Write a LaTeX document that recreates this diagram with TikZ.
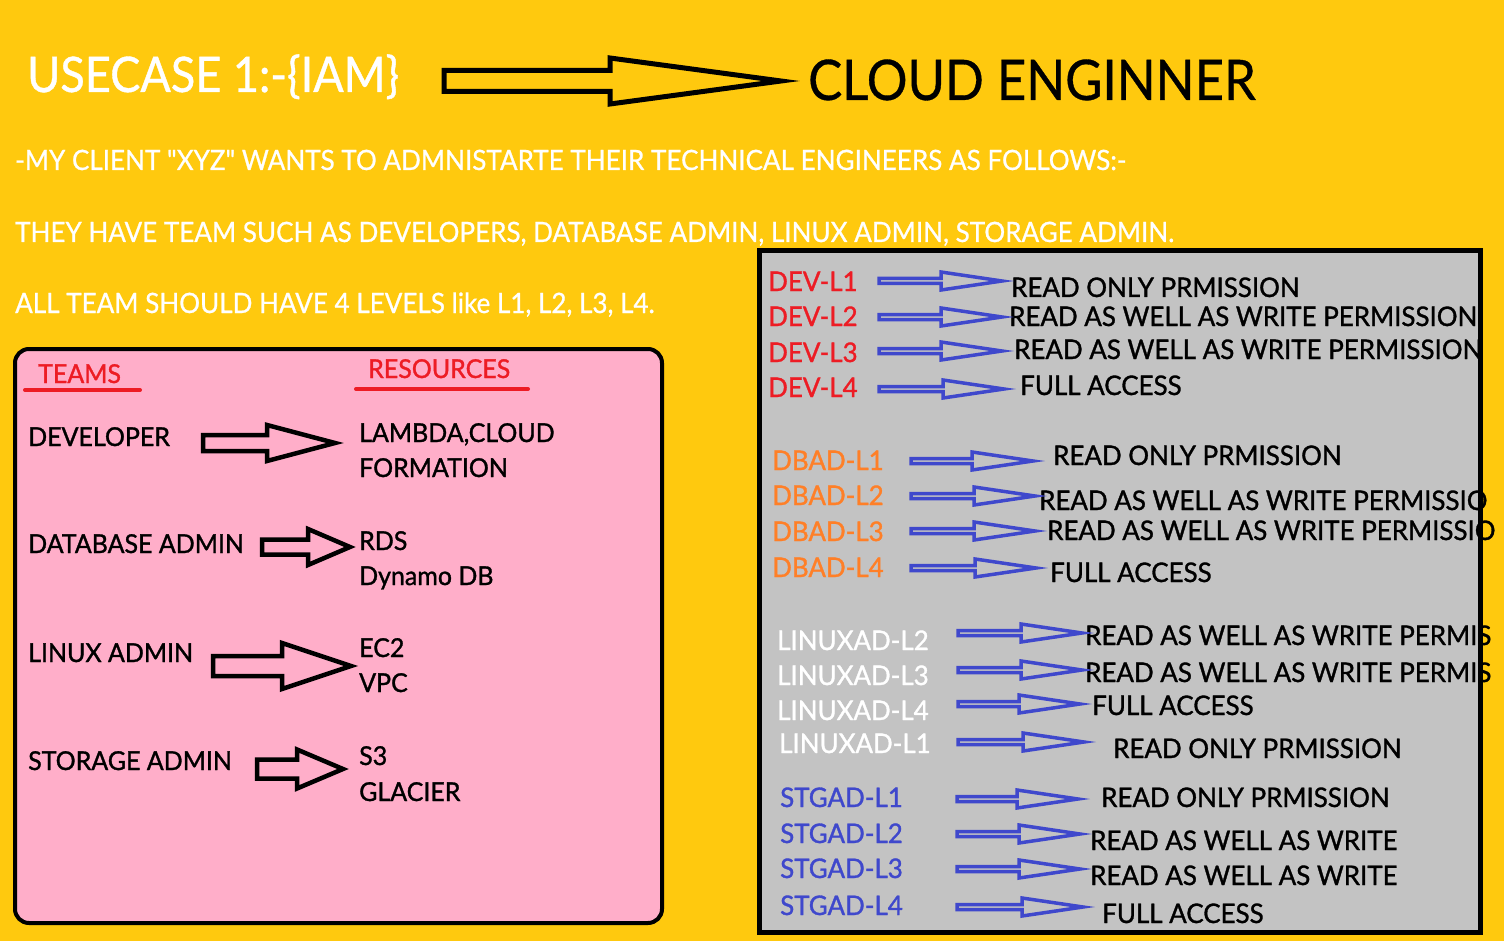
\documentclass[tikz,border=0pt]{standalone}
\usepackage{fontspec}
\setmainfont{Lato}[FakeStretch=0.96, FakeBold=1.2]
\newfontfamily\introfont{Lato}[FakeStretch=0.93, FakeBold=0.8]
\newfontfamily\titlefont{Lato}[FakeStretch=0.92, FakeBold=0.8]
\newfontfamily\widefont{Lato}[FakeStretch=0.91, FakeBold=0.6]
\usetikzlibrary{calc}
\definecolor{paintyellow}{RGB}{255,201,14}
\definecolor{paintpink}{RGB}{255,174,201}
\definecolor{paintgrey}{RGB}{195,195,195}
\definecolor{paintred}{RGB}{237,28,36}
\definecolor{paintorange}{RGB}{255,127,39}
\definecolor{paintblue}{RGB}{63,72,204}
\tikzstyle{txt}      = [anchor=base west, inner sep=0pt]
\tikzstyle{intro}    = [txt, text=white, font=\introfont\fontsize{28}{30}\selectfont]
\tikzstyle{team}     = [txt, font=\fontsize{26}{28}\selectfont]
\tikzstyle{level}    = [txt, font=\fontsize{27}{29}\selectfont]
\tikzstyle{fatblack} = [line width=4.5pt, draw=black]
\tikzstyle{fatblue}  = [line width=3.5pt, draw=paintblue]
% block arrow: [style]{tail}{tip}{shaft half}{head half}{head length}
\newcommand{\fatarrow}[6][]{%
  \draw[#1] let \p1=(#2), \p2=(#3) in
    (\x1,\y1+#4pt) -- (\x2-#6pt,\y1+#4pt) -- (\x2-#6pt,\y1+#5pt) -- (\x2,\y2)
    -- (\x2-#6pt,\y1-#5pt) -- (\x2-#6pt,\y1-#4pt) -- (\x1,\y1-#4pt) -- cycle;}

\begin{document}
\begin{tikzpicture}[x=1pt, y=-1pt]
  \fill[paintyellow] (0,0) rectangle (1504,941);
  \useasboundingbox (0,0) rectangle (1504,941);

  % heading
  \node[txt, text=white, font=\titlefont\fontsize{49}{52}\selectfont] (title) at (27,92) {USECASE 1:-\{IAM\}};
  \node[txt, font=\widefont\fontsize{56}{60}\selectfont] (cloud) at (808,100) {CLOUD ENGINNER};
  \coordinate (titleA) at (444,81);
  \coordinate (titleB) at (781,81);
  \fatarrow[fatblack, line width=5pt]{titleA}{titleB}{10.5}{23}{171}

  \node[intro] (intro1) at (15,170) {-MY CLIENT "XYZ" WANTS TO ADMNISTARTE THEIR TECHNICAL ENGINEERS AS FOLLOWS:-};
  \node[intro] (intro2) at (15,242) {THEY HAVE TEAM SUCH AS DEVELOPERS, DATABASE ADMIN, LINUX ADMIN, STORAGE ADMIN.};
  \node[intro] (intro3) at (15,313) {ALL TEAM SHOULD HAVE 4 LEVELS like L1, L2, L3, L4.};

  % teams and resources
  \draw[line width=4pt, fill=paintpink, rounded corners=14pt] (15,349) rectangle (662,923);
  \node[team, text=paintred] (teams) at (38,383) {TEAMS};
  \node[team, text=paintred] (resources) at (368,378) {RESOURCES};
  \draw[paintred, line width=4pt, line cap=round] (25,390) -- (140,390);
  \draw[paintred, line width=4pt, line cap=round] (356,389) -- (528,389);

  \node[team] (dev) at (28,446) {DEVELOPER};
  \node[team] (devres) at (359,442) {LAMBDA,CLOUD};
  \node[team] (devres2) at (359,477) {FORMATION};
  \node[team] (dba) at (28,553) {DATABASE ADMIN};
  \node[team] (dbares) at (359,550) {RDS};
  \node[team] (dbares2) at (359,585) {Dynamo DB};
  \node[team] (linux) at (28,662) {LINUX ADMIN};
  \node[team] (linuxres) at (359,657) {EC2};
  \node[team] (linuxres2) at (359,692) {VPC};
  \node[team] (stg) at (28,770) {STORAGE ADMIN};
  \node[team] (stgres) at (359,765) {S3};
  \node[team] (stgres2) at (359,801) {GLACIER};

  \coordinate (devA) at (203,443);   \coordinate (devB) at (335,443);
  \coordinate (dbaA) at (262,547);   \coordinate (dbaB) at (350,547);
  \coordinate (linuxA) at (213,666); \coordinate (linuxB) at (351,666);
  \coordinate (stgA) at (257,769);   \coordinate (stgB) at (343,769);
  \fatarrow[fatblack]{devA}{devB}{8}{18}{68}
  \fatarrow[fatblack]{dbaA}{dbaB}{7.5}{18}{42}
  \fatarrow[fatblack]{linuxA}{linuxB}{10}{23}{69}
  \fatarrow[fatblack]{stgA}{stgB}{9.5}{19.5}{46}

  % levels and permissions
  \draw[line width=5pt, fill=paintgrey] (759,251) rectangle (1480,932);
  \foreach \name/\lab/\col/\lx/\ly/\ax/\bx/\ay/\tx/\ty/\perm in {
      d1/DEV-L1/paintred/768/291/879/1002/281/1011/297/READ ONLY PRMISSION,
      d2/DEV-L2/paintred/768/326/879/1002/317/1009/326/READ AS WELL AS WRITE PERMISSION,
      d3/DEV-L3/paintred/768/362/879/1002/351/1014/359/READ AS WELL AS WRITE PERMISSION,
      d4/DEV-L4/paintred/768/397/879/1004/389/1020/395/FULL ACCESS,
      b1/DBAD-L1/paintorange/772/470/911/1033/461/1053/465/READ ONLY PRMISSION,
      b2/DBAD-L2/paintorange/772/505/911/1035/496/1039/510/READ AS WELL AS WRITE PERMISSIO,
      b3/DBAD-L3/paintorange/772/541/911/1035/531/1047/540/READ AS WELL AS WRITE PERMISSIO,
      b4/DBAD-L4/paintorange/772/577/911/1036/568/1050/582/FULL ACCESS,
      l2/LINUXAD-L2/white/777/650/958/1082/633/1085/645/READ AS WELL AS WRITE PERMIS,
      l3/LINUXAD-L3/white/777/685/958/1082/670/1085/682/READ AS WELL AS WRITE PERMIS,
      l4/LINUXAD-L4/white/777/720/958/1080/704/1092/715/FULL ACCESS,
      l1/LINUXAD-L1/white/779/753/958/1084/742/1113/758/READ ONLY PRMISSION,
      s1/STGAD-L1/paintblue/780/807/957/1078/799/1101/807/READ ONLY PRMISSION,
      s2/STGAD-L2/paintblue/780/843/957/1080/834/1090/850/READ AS WELL AS WRITE,
      s3/STGAD-L3/paintblue/780/878/957/1080/869/1090/885/READ AS WELL AS WRITE,
      s4/STGAD-L4/paintblue/780/915/957/1083/907/1102/923/FULL ACCESS}{
    \node[level, text=\col] (\name) at (\lx,\ly) {\lab};
    \node[level] (\name-perm) at (\tx,\ty) {\perm};
    \coordinate (\name-a) at (\ax,\ay);
    \coordinate (\name-b) at (\bx,\ay);
    \fatarrow[fatblue]{\name-a}{\name-b}{2.5}{9}{61}
  }
\end{tikzpicture}
\end{document}
